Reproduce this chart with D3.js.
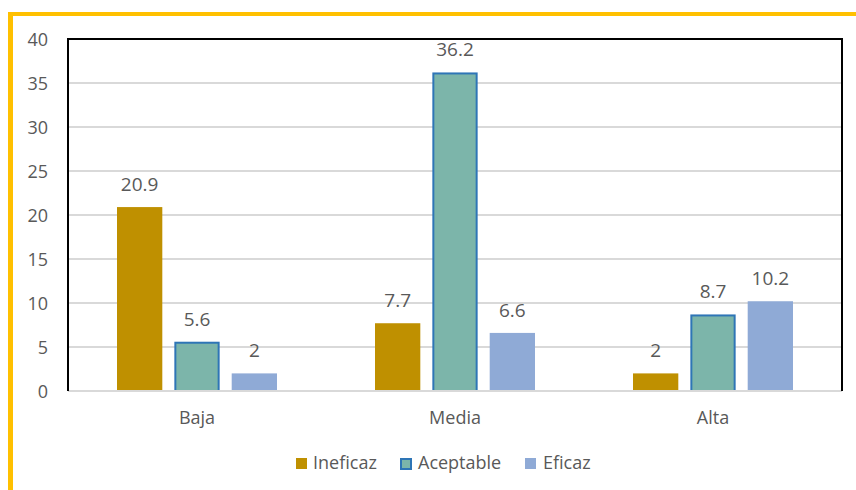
<!DOCTYPE html>
<html>
<head>
<meta charset="utf-8">
<script src="https://cdn.jsdelivr.net/npm/d3@7"></script>
<style>
  html, body { margin: 0; padding: 0; background: #fff; }
  svg { display: block; font-family: "Open Sans", sans-serif; }
</style>
</head>
<body>
<svg id="chart" width="856" height="490"></svg>
<script>
// Nivel de eficacia por categoría (%)
const categories = ["Baja", "Media", "Alta"];
const seriesNames = ["Ineficaz", "Aceptable", "Eficaz"];
const ineficaz = [20.9, 7.7, 2];
const aceptable = [5.6, 36.2, 8.7];
const eficaz = [2, 6.6, 10.2];
const yTicks = [0, 5, 10, 15, 20, 25, 30, 35, 40];

const seriesValues = [ineficaz, aceptable, eficaz];
const fills = ["#bf9000", "#7cb5aa", "#8faad6"];
const strokes = [null, "#2e75b6", null];

const svg = d3.select("#chart");
const W = 856, H = 490;
const plot = { left: 68, right: 842, top: 39, bottom: 391 };

// Outer frame (yellow top and left edges)
svg.append("rect").attr("x", 8).attr("y", 12).attr("width", W - 8).attr("height", 4).attr("fill", "#ffc000");
svg.append("rect").attr("x", 8).attr("y", 12).attr("width", 5).attr("height", H - 12).attr("fill", "#ffc000");

const x0 = d3.scaleBand().domain(categories).range([plot.left, plot.right]).padding(0);
const x1 = d3.scaleBand().domain(seriesNames)
  .range([49, x0.bandwidth() - 49]).paddingInner(0.21).paddingOuter(0);
const y = d3.scaleLinear().domain([0, 40]).range([plot.bottom, plot.top]);

// Gridlines
svg.append("g")
  .selectAll("line").data(yTicks.filter(t => t > 0)).join("line")
  .attr("x1", plot.left).attr("x2", plot.right)
  .attr("y1", d => y(d)).attr("y2", d => y(d))
  .attr("stroke", "#d9d9d9").attr("stroke-width", 2);

// Y axis labels
const yAxis = d3.axisLeft(y).tickValues(yTicks).tickSize(0).tickPadding(20);
const gy = svg.append("g").attr("transform", `translate(${plot.left},0)`).call(yAxis);
gy.select(".domain").remove();
gy.selectAll("text").attr("fill", "#595959").style("font-size", "18px")
  .style("font-family", "'Open Sans', sans-serif").attr("dy", "0.36em");

// Bars
const groups = svg.append("g").selectAll("g").data(categories).join("g")
  .attr("transform", d => `translate(${x0(d)},0)`);

groups.each(function(cat, ci) {
  const g = d3.select(this);
  seriesNames.forEach((s, si) => {
    const v = seriesValues[si][ci];
    const r = g.append("rect")
      .attr("x", x1(s)).attr("width", x1.bandwidth())
      .attr("y", y(v)).attr("height", y(0) - y(v))
      .attr("fill", fills[si]);
    if (strokes[si]) {
      r.attr("stroke", strokes[si]).attr("stroke-width", 2)
        .attr("x", x1(s) + 1).attr("width", x1.bandwidth() - 2)
        .attr("y", y(v) + 1).attr("height", y(0) - y(v) - 1);
    }
    g.append("text")
      .attr("x", x1(s) + x1.bandwidth() / 2)
      .attr("y", y(v) - 16)
      .attr("text-anchor", "middle")
      .attr("fill", "#595959").style("font-size", "19px")
      .text(v);
  });
});

// Frame: black top, left, right; gray baseline
svg.append("line").attr("x1", plot.left).attr("x2", plot.right).attr("y1", plot.bottom).attr("y2", plot.bottom)
  .attr("stroke", "#d9d9d9").attr("stroke-width", 2);
svg.append("path")
  .attr("d", `M${plot.left},${plot.bottom}V${plot.top}H${plot.right}V${plot.bottom}`)
  .attr("fill", "none").attr("stroke", "#000").attr("stroke-width", 2);

// Category labels
const xAxis = d3.axisBottom(x0).tickSize(0).tickPadding(0);
const gx = svg.append("g").attr("transform", `translate(0,${plot.bottom})`).call(xAxis);
gx.select(".domain").remove();
gx.selectAll("text").attr("fill", "#595959").style("font-size", "18px")
  .style("font-family", "'Open Sans', sans-serif").attr("y", 33).attr("dy", 0);

// Legend
const legendItems = [
  { name: seriesNames[0], x: 296, tx: 313 },
  { name: seriesNames[1], x: 400, tx: 418 },
  { name: seriesNames[2], x: 525, tx: 543 }
];
const lg = svg.append("g");
legendItems.forEach((it, i) => {
  const sq = lg.append("rect").attr("x", it.x).attr("y", 458).attr("width", 11).attr("height", 11)
    .attr("fill", fills[i]);
  if (strokes[i]) sq.attr("stroke", strokes[i]).attr("stroke-width", 2)
    .attr("x", it.x + 1).attr("y", 459).attr("width", 10).attr("height", 10);
  lg.append("text").attr("x", it.tx).attr("y", 469).attr("fill", "#595959")
    .style("font-size", "18px").text(it.name);
});
</script>
</body>
</html>
